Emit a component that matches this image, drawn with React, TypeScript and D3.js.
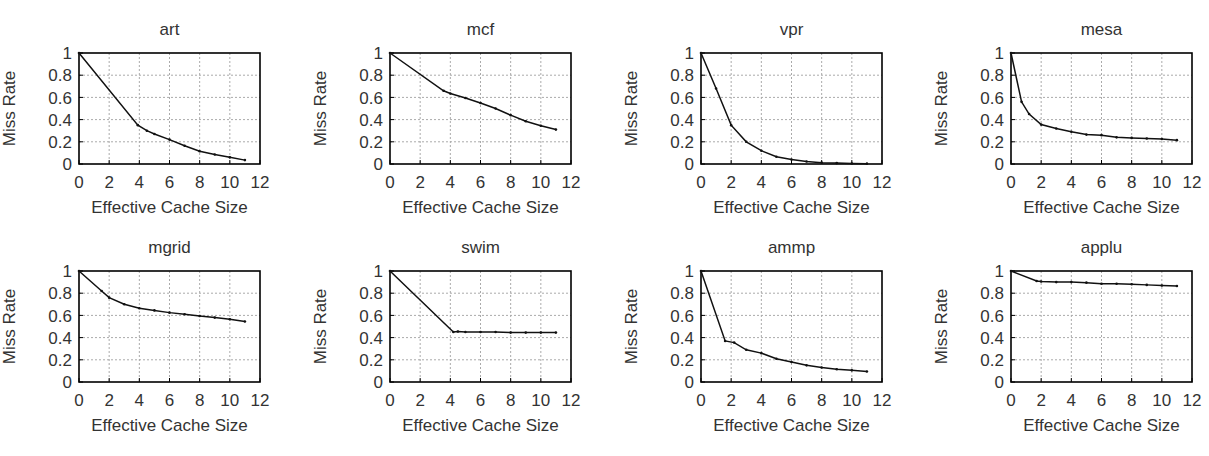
import React, { useEffect, useRef } from "react";
import * as d3 from "d3";

// benchmark names (one panel each)
const benchmarks = ["art", "mcf", "vpr", "mesa", "mgrid", "swim", "ammp", "applu"];

// effective cache size (x) and miss rate (y) per benchmark
const artX = [0, 3.9, 4.5, 5, 6, 7, 8, 9, 10, 11];
const artY = [1, 0.35, 0.3, 0.27, 0.22, 0.165, 0.115, 0.085, 0.06, 0.035];

const mcfX = [0, 3.55, 4, 5, 6, 7, 8, 9, 10, 11];
const mcfY = [1, 0.66, 0.635, 0.595, 0.55, 0.5, 0.44, 0.385, 0.345, 0.31];

const vprX = [0, 1, 2, 3, 4, 5, 6, 7, 8, 9, 10, 11];
const vprY = [1, 0.68, 0.35, 0.2, 0.12, 0.065, 0.04, 0.022, 0.012, 0.008, 0.005, 0.003];

const mesaX = [0, 0.7, 1.2, 2, 3, 4, 5, 6, 7, 8, 9, 10, 11];
const mesaY = [1, 0.56, 0.45, 0.355, 0.32, 0.29, 0.265, 0.26, 0.24, 0.235, 0.23, 0.225, 0.215];

const mgridX = [0, 1.5, 2, 3, 4, 5, 6, 7, 8, 9, 10, 11];
const mgridY = [1, 0.82, 0.76, 0.7, 0.665, 0.645, 0.625, 0.61, 0.595, 0.58, 0.565, 0.545];

const swimX = [0, 4.2, 4.5, 5, 6, 7, 8, 9, 10, 11];
const swimY = [1, 0.45, 0.455, 0.45, 0.45, 0.45, 0.445, 0.445, 0.445, 0.445];

const ammpX = [0, 1.6, 2.2, 3, 4, 5, 6, 7, 8, 9, 10, 11];
const ammpY = [1, 0.37, 0.355, 0.29, 0.26, 0.21, 0.18, 0.15, 0.13, 0.115, 0.105, 0.095];

const appluX = [0, 1.7, 2, 3, 4, 5, 6, 7, 8, 9, 10, 11];
const appluY = [1, 0.91, 0.905, 0.9, 0.9, 0.895, 0.885, 0.885, 0.88, 0.875, 0.87, 0.865];

const seriesX = [artX, mcfX, vprX, mesaX, mgridX, swimX, ammpX, appluX];
const seriesY = [artY, mcfY, vprY, mesaY, mgridY, swimY, ammpY, appluY];

const xTicks = [0, 2, 4, 6, 8, 10, 12];
const yTicks = [0, 0.2, 0.4, 0.6, 0.8, 1];

const W = 1209;
const H = 456;
const panelLeft = [79, 390, 701, 1011];
const panelTop = [53, 271];
const pw = 181;
const ph = 111;
const FONT = "'Liberation Sans', Arial, Helvetica, sans-serif";

export default function App() {
  const ref = useRef<SVGSVGElement | null>(null);

  useEffect(() => {
    const svg = d3.select(ref.current);
    svg.selectAll("*").remove();

    const x = d3.scaleLinear().domain([0, 12]).range([0, pw]);
    const y = d3.scaleLinear().domain([0, 1]).range([ph, 0]);

    benchmarks.forEach((name, i) => {
      const g = svg
        .append("g")
        .attr("transform", `translate(${panelLeft[i % 4]},${panelTop[Math.floor(i / 4)]})`)
        .style("font-family", FONT)
        .style("font-size", "17px");

      // dotted grid
      g.selectAll("line.gx")
        .data(xTicks.slice(1, -1))
        .enter()
        .append("line")
        .attr("x1", (d) => x(d))
        .attr("x2", (d) => x(d))
        .attr("y1", 0)
        .attr("y2", ph)
        .attr("stroke", "#aaa")
        .attr("stroke-width", 1)
        .attr("stroke-dasharray", "2,2");
      g.selectAll("line.gy")
        .data(yTicks.slice(1, -1))
        .enter()
        .append("line")
        .attr("x1", 0)
        .attr("x2", pw)
        .attr("y1", (d) => y(d))
        .attr("y2", (d) => y(d))
        .attr("stroke", "#aaa")
        .attr("stroke-width", 1)
        .attr("stroke-dasharray", "2,2");

      // ticks inward, like gnuplot
      g.selectAll("line.tx")
        .data(xTicks)
        .enter()
        .append("line")
        .attr("x1", (d) => x(d))
        .attr("x2", (d) => x(d))
        .attr("y1", ph)
        .attr("y2", ph - 4)
        .attr("stroke", "#000");
      g.selectAll("line.ty")
        .data(yTicks)
        .enter()
        .append("line")
        .attr("x1", 0)
        .attr("x2", 4)
        .attr("y1", (d) => y(d))
        .attr("y2", (d) => y(d))
        .attr("stroke", "#000");

      // frame
      g.append("rect")
        .attr("width", pw)
        .attr("height", ph)
        .attr("fill", "none")
        .attr("stroke", "#000")
        .attr("stroke-width", 1.6);

      // tick labels
      g.selectAll("text.xl")
        .data(xTicks)
        .enter()
        .append("text")
        .attr("x", (d) => x(d))
        .attr("y", ph + 24)
        .attr("text-anchor", "middle")
        .attr("fill", "#333")
        .text((d) => d);
      g.selectAll("text.yl")
        .data(yTicks)
        .enter()
        .append("text")
        .attr("x", -7)
        .attr("y", (d) => y(d))
        .attr("dy", "0.36em")
        .attr("text-anchor", "end")
        .attr("fill", "#333")
        .text((d) => d);

      // titles
      g.append("text")
        .attr("x", pw / 2)
        .attr("y", -18)
        .attr("text-anchor", "middle")
        .attr("fill", "#333")
        .text(name);
      g.append("text")
        .attr("x", pw / 2)
        .attr("y", ph + 49)
        .attr("text-anchor", "middle")
        .attr("fill", "#333")
        .text("Effective Cache Size");
      g.append("text")
        .attr("transform", `translate(-64,${ph / 2}) rotate(-90)`)
        .attr("text-anchor", "middle")
        .attr("fill", "#333")
        .text("Miss Rate");

      // the curve
      const pts = seriesX[i].map((v, k) => [v, seriesY[i][k]] as [number, number]);
      const line = d3
        .line<[number, number]>()
        .x((d) => x(d[0]))
        .y((d) => y(d[1]));
      g.append("path")
        .attr("d", line(pts))
        .attr("fill", "none")
        .attr("stroke", "#111")
        .attr("stroke-width", 1.5);
      g.selectAll("circle.pt")
        .data(pts)
        .enter()
        .append("circle")
        .attr("cx", (d) => x(d[0]))
        .attr("cy", (d) => y(d[1]))
        .attr("r", 1.3)
        .attr("fill", "#111");
    });
  }, []);

  return (
    <svg
      ref={ref}
      width={W}
      height={H}
      style={{ position: "absolute", left: 0, top: 0, background: "#fff" }}
    />
  );
}
